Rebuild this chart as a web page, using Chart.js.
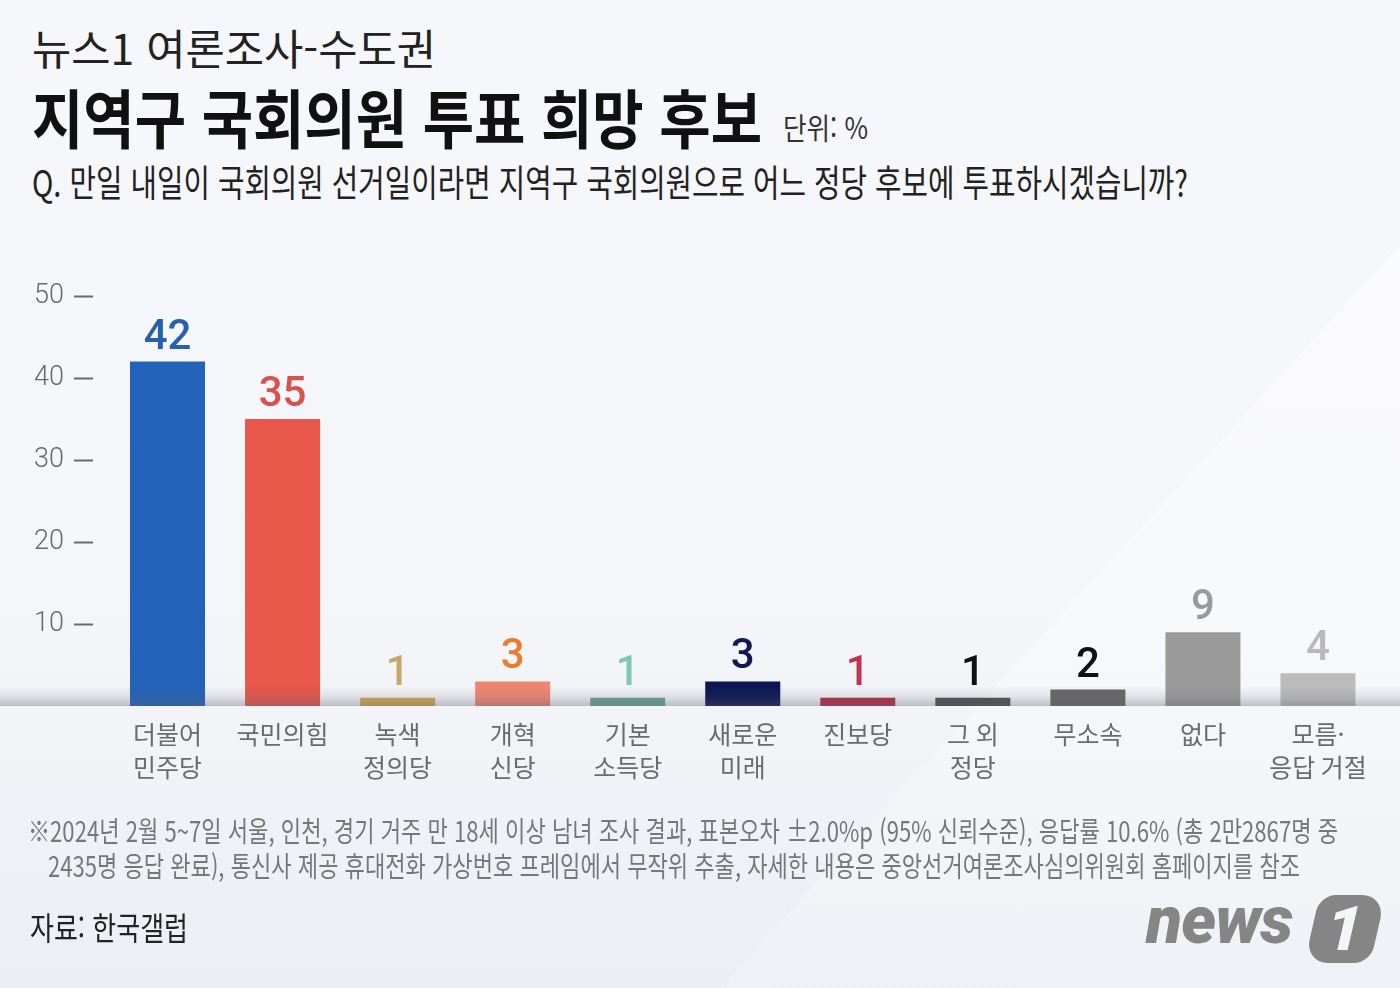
<!DOCTYPE html>
<html lang="ko">
<head>
<meta charset="utf-8">
<script src="https://cdn.jsdelivr.net/npm/chart.js@4.4.1/dist/chart.umd.min.js"></script>
<style>
html,body{margin:0;padding:0;}
body{width:1400px;height:988px;position:relative;overflow:hidden;
  background:linear-gradient(to bottom,#f6f7fa 0%,#f5f6f9 60%,#eceef4 100%);
  font-family:"Noto Sans CJK KR","Noto Sans",sans-serif;}
#sheen{position:absolute;left:0;top:0;width:1400px;height:988px;
  background:linear-gradient(to bottom,rgba(255,255,255,0.55),rgba(255,255,255,0.15));
  clip-path:polygon(1400px 245px,1400px 988px,720px 988px);}
#wrap{position:absolute;left:0;top:0;width:1400px;height:988px;}
.t{position:absolute;white-space:nowrap;line-height:1;transform-origin:0 0;}
#news{position:absolute;left:1146px;top:888px;white-space:nowrap;color:#858585;
  font-family:Roboto,"Noto Sans",sans-serif;font-weight:900;font-style:italic;line-height:1;
  font-size:66px;letter-spacing:-1px;}
#one{position:absolute;left:1312px;top:895px;width:66px;height:68px;background:#858585;
  border-radius:16px 24px 16px 24px;transform:skewX(-13deg);
  color:#f4f5f8;font-family:Roboto,"Noto Sans",sans-serif;font-weight:900;font-size:62px;
  line-height:68px;text-align:center;}
</style>
</head>
<body>
<div id="sheen"></div>
<div class="t" id="l1" data-w="404" style="left:32px;top:26px;font-size:42px;color:#222;">뉴스1 여론조사-수도권</div>
<div class="t" id="l2" data-w="730" style="left:32px;top:83px;font-size:64px;font-weight:700;color:#111;">지역구 국회의원 투표 희망 후보</div>
<div class="t" id="unit" data-w="85" style="left:783px;top:111px;font-size:30px;color:#333;">단위: %</div>
<div class="t" id="q" data-w="1156" style="left:32px;top:163px;font-size:37px;color:#222;">Q. 만일 내일이 국회의원 선거일이라면 지역구 국회의원으로 어느 정당 후보에 투표하시겠습니까?</div>
<div id="wrap"><canvas id="c" width="1400" height="988"></canvas></div>
<div class="t" id="f1" data-w="1310" style="left:28px;top:816px;font-size:28px;color:#777;">※2024년 2월 5~7일 서울, 인천, 경기 거주 만 18세 이상 남녀 조사 결과, 표본오차 ±2.0%p (95% 신뢰수준), 응답률 10.6% (총 2만2867명 중</div>
<div class="t" id="f2" data-w="1252" style="left:48px;top:851px;font-size:28px;color:#777;">2435명 응답 완료), 통신사 제공 휴대전화 가상번호 프레임에서 무작위 추출, 자세한 내용은 중앙선거여론조사심의위원회 홈페이지를 참조</div>
<div class="t" id="src" data-w="158" style="left:30px;top:910px;font-size:32px;color:#222;">자료: 한국갤럽</div>
<div id="news">news</div>
<div id="one">1</div>
<script>
// ---- data ----
const categories = [['더불어','민주당'],'국민의힘',['녹색','정의당'],['개혁','신당'],['기본','소득당'],['새로운','미래'],'진보당',['그 외','정당'],'무소속','없다',['모름·','응답 거절']];
const support = [42,35,1,3,1,3,1,1,2,9,4];
const yTicks = [10,20,30,40,50];
// ---- styles ----
const barColors = ['#2262b8','#e8574a','#d4a955','#ef8672','#68a893','#0b1654','#b52c45','#4f4f4f','#676767','#9b9b9b','#bcbcbc'];
const labelColors = ['#2561ae','#d9524a','#c9a66b','#ec7b30','#7fc8b3','#0f1a55','#c0334e','#111111','#111111','#9a9a9a','#b9b9b9'];

function fitText(){
  document.querySelectorAll('.t').forEach(el=>{
    el.style.transform='none';
    const w = el.getBoundingClientRect().width;
    const target = +el.dataset.w;
    if (w>0) el.style.transform='scaleX('+(target/w)+')';
  });
}

const bandPlugin = {
  id:'band',
  afterDatasetsDraw(chart){
    const ctx = chart.ctx;
    const y0 = chart.scales.y.getPixelForValue(0);
    const g = ctx.createLinearGradient(0,y0-20,0,y0);
    g.addColorStop(0,'rgba(95,98,108,0)');
    g.addColorStop(0.6,'rgba(95,98,108,0.16)');
    g.addColorStop(1,'rgba(95,98,108,0.38)');
    ctx.save();
    ctx.fillStyle = g;
    ctx.fillRect(0,y0-20,chart.width,20);
    ctx.restore();
  }
};
const valuePlugin = {
  id:'values',
  afterDatasetsDraw(chart){
    const ctx = chart.ctx;
    const meta = chart.getDatasetMeta(0);
    ctx.save();
    ctx.font = '500 42px Roboto, "Noto Sans", sans-serif';
    ctx.textAlign = 'center';
    ctx.textBaseline = 'alphabetic';
    meta.data.forEach((bar,i)=>{
      ctx.fillStyle = labelColors[i];
      ctx.fillText(String(support[i]), bar.x, bar.y - 13);
    });
    ctx.restore();
  }
};

function draw(){
  fitText();
  new Chart(document.getElementById('c'),{
    type:'bar',
    data:{labels:categories,datasets:[{data:support,backgroundColor:barColors,borderWidth:0,barPercentage:0.652,categoryPercentage:1}]},
    options:{
      responsive:false,animation:false,
      layout:{padding:{top:296,left:0,right:24.5,bottom:182}},
      plugins:{legend:{display:false},tooltip:{enabled:false},title:{display:false}},
      scales:{
        x:{
          grid:{display:false,drawTicks:false},border:{display:false},
          ticks:{autoSkip:false,maxRotation:0,minRotation:0,padding:12,color:'#6b6b6b',
            font:{family:'"Noto Sans CJK KR", "Noto Sans", sans-serif',size:25,lineHeight:1.32}},
          afterFit(s){s.height=100;}
        },
        y:{
          min:0,max:50,
          border:{display:false},
          grid:{drawOnChartArea:false,drawTicks:true,tickLength:36,tickWidth:2,tickColor:'#6a6a6a',tickBorderDash:[19,100]},
          ticks:{padding:10,color:'#6a6a6a',font:{family:'Roboto, "Noto Sans", sans-serif',size:27,weight:'300'}},
          afterBuildTicks(s){s.ticks = yTicks.map(v=>({value:v}));},
          afterFit(s){s.width=110;}
        }
      }
    },
    plugins:[bandPlugin,valuePlugin]
  });
}
if (document.fonts && document.fonts.ready) { document.fonts.ready.then(draw); } else { draw(); }
</script>
</body>
</html>
